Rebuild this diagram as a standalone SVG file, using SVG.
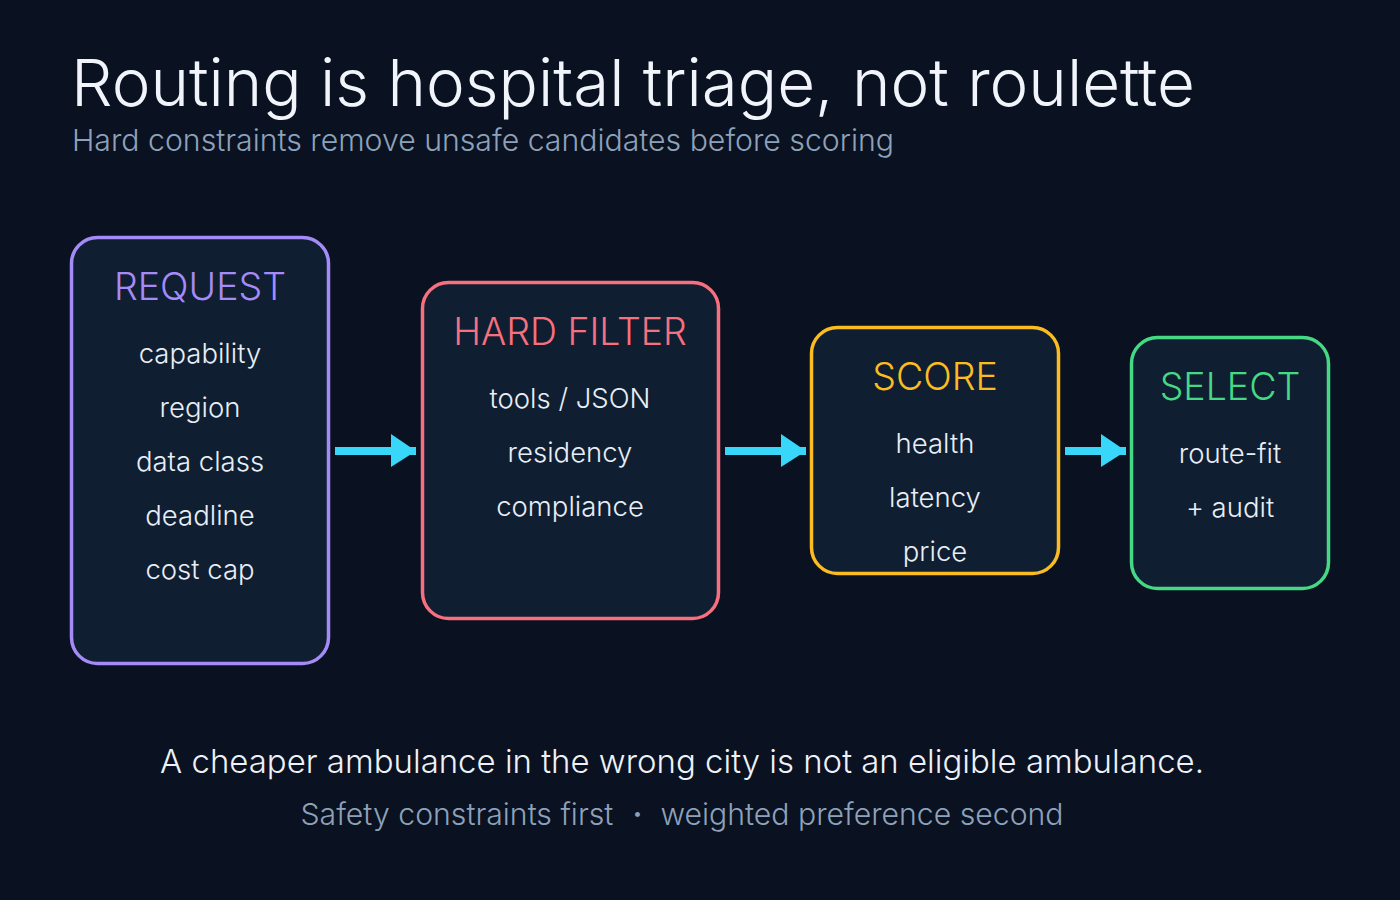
<svg xmlns="http://www.w3.org/2000/svg" width="1400" height="900" viewBox="0 0 1400 900">
<defs>
<style>
text{font-family:Inter,"Noto Sans",sans-serif;}
.title{font-size:65px;fill:#f1f5fb;font-weight:300;}
.sub{font-size:30px;fill:#8da2ba;font-weight:300;}
.box{fill:#101e31;stroke-width:3.5;}
.hd{font-size:37.5px;text-anchor:middle;font-weight:300;}
.it{font-size:27.5px;fill:#e8eef6;text-anchor:middle;font-weight:300;}
.arr line{stroke:#38d6f8;stroke-width:8;}
.arr polygon{fill:#38d6f8;}
.foot{font-size:33px;fill:#eef2f8;text-anchor:middle;font-weight:300;}
.foot2{font-size:30px;fill:#8da2ba;text-anchor:middle;font-weight:300;}
</style>
</defs>
<rect width="1400" height="900" fill="#0a1120"/>
<text class="title" x="71" y="106" textLength="1124" lengthAdjust="spacingAndGlyphs">Routing is hospital triage, not roulette</text>
<text class="sub" x="72" y="151" textLength="822" lengthAdjust="spacingAndGlyphs">Hard constraints remove unsafe candidates before scoring</text>

<g id="request">
<rect class="box" x="71.5" y="237.5" width="257" height="426" rx="26" stroke="#a58bf8"/>
<text class="hd" x="200" y="300" fill="#a58bf8">REQUEST</text>
<text class="it" x="200" y="363">capability</text>
<text class="it" x="200" y="417">region</text>
<text class="it" x="200" y="471">data class</text>
<text class="it" x="200" y="525">deadline</text>
<text class="it" x="200" y="579">cost cap</text>
</g>
<g id="hard-filter">
<rect class="box" x="422.5" y="282.5" width="296" height="336" rx="26" stroke="#f7707f"/>
<text class="hd" x="570" y="345" fill="#f7707f">HARD FILTER</text>
<text class="it" x="570" y="408">tools / JSON</text>
<text class="it" x="570" y="462">residency</text>
<text class="it" x="570" y="516">compliance</text>
</g>
<g id="score">
<rect class="box" x="811.5" y="327.5" width="247" height="246" rx="26" stroke="#fbbc22"/>
<text class="hd" x="935" y="390" fill="#fbbc22">SCORE</text>
<text class="it" x="935" y="453">health</text>
<text class="it" x="935" y="507">latency</text>
<text class="it" x="935" y="561">price</text>
</g>
<g id="select">
<rect class="box" x="1131.5" y="337.5" width="197" height="251" rx="26" stroke="#45d985"/>
<text class="hd" x="1230" y="400" fill="#45d985">SELECT</text>
<text class="it" x="1230" y="463">route-fit</text>
<text class="it" x="1230" y="517">+ audit</text>
</g>
<g id="connectors" class="arr">
<line x1="335" y1="451" x2="416" y2="451"/>
<polygon points="391,434 416,451 391,467"/>
<line x1="725" y1="451" x2="806" y2="451"/>
<polygon points="781,434 806,451 781,467"/>
<line x1="1065" y1="451" x2="1126" y2="451"/>
<polygon points="1101,434 1126,451 1101,467"/>
</g>
<text class="foot" x="682" y="773" textLength="1044" lengthAdjust="spacingAndGlyphs">A cheaper ambulance in the wrong city is not an eligible ambulance.</text>
<text class="foot2" x="682" y="825" textLength="763" lengthAdjust="spacingAndGlyphs">Safety constraints first ・ weighted preference second</text>
</svg>
